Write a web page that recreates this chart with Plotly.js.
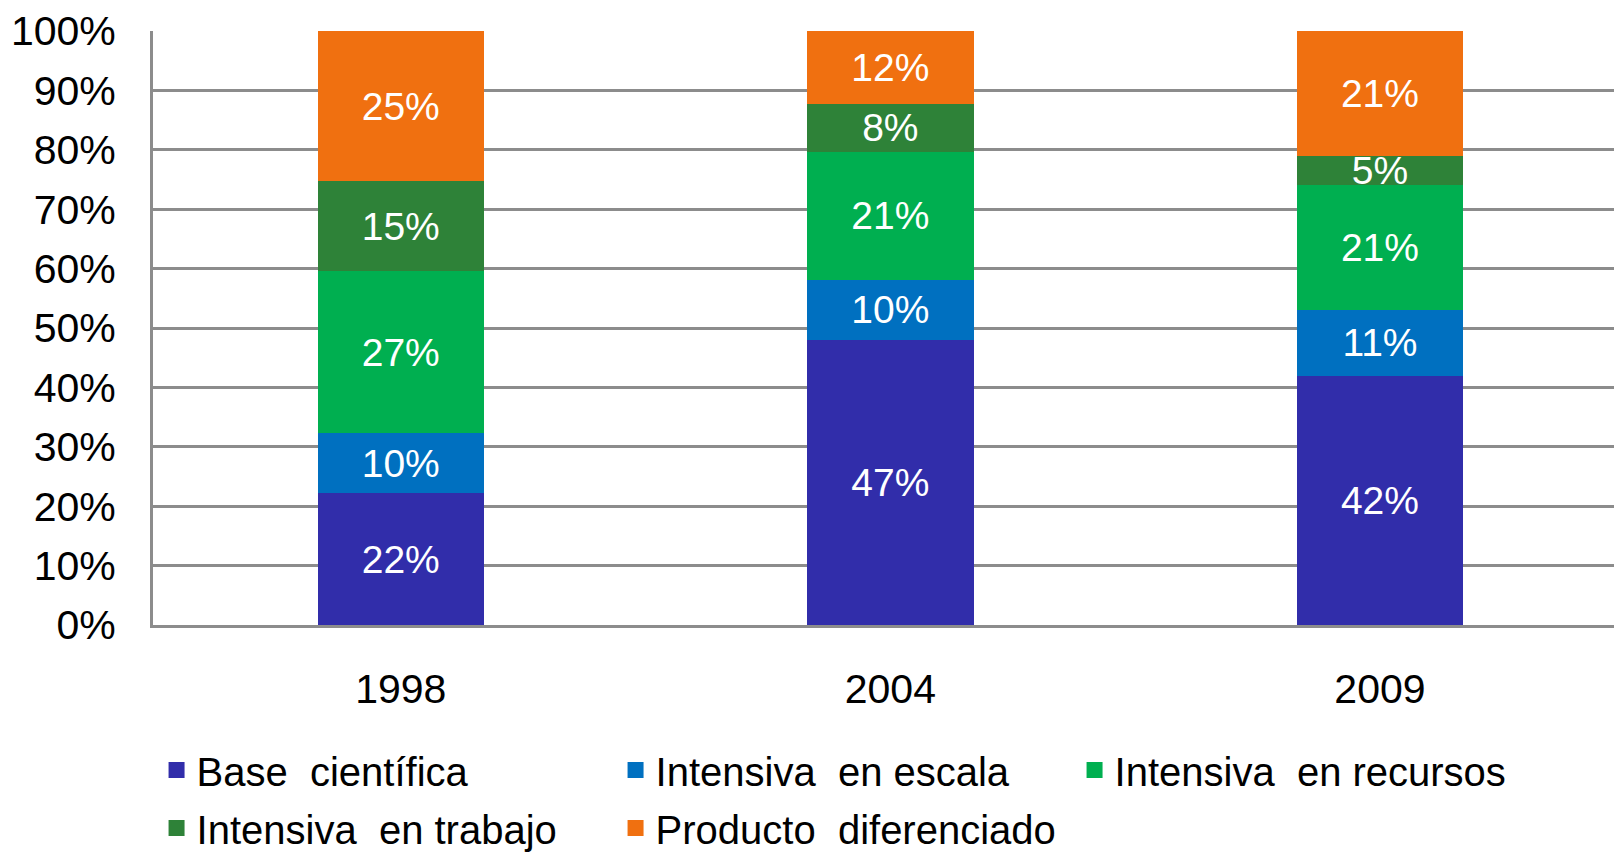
<!DOCTYPE html>
<html>
<head>
<meta charset="utf-8">
<script src="https://cdn.plot.ly/plotly-3.0.1.min.js"></script>
<style>
  html, body { margin: 0; padding: 0; background: white; }
  #chart { width: 1614px; height: 856px; }
</style>
</head>
<body>
<div id="chart"></div>
<script>
// Years on the x axis
const years = ['1998', '2004', '2009'];

// Share of each category per year (%), as printed on the bars
const baseCientifica = [22, 47, 42];
const intensivaEscala = [10, 10, 11];
const intensivaRecursos = [27, 21, 21];
const intensivaTrabajo = [15, 8, 5];
const productoDiferenciado = [25, 12, 21];

const seriesNames = ['Base  científica', 'Intensiva  en escala', 'Intensiva  en recursos',
    'Intensiva  en trabajo', 'Producto  diferenciado'];
const seriesValues = [baseCientifica, intensivaEscala, intensivaRecursos,
    intensivaTrabajo, productoDiferenciado];
const seriesColors = ['#312DAA', '#0070C0', '#00AF50', '#2E8238', '#F07010'];
// first three entries on the first legend row, the rest on the second
const legendRow = ['legend', 'legend', 'legend', 'legend2', 'legend2'];

const fontFamily = '"Liberation Sans", Arial, sans-serif';

const traces = seriesValues.map((vals, i) => ({
    type: 'bar',
    name: seriesNames[i],
    x: years,
    y: vals,
    width: 0.34,
    text: vals.map(v => v + '%'),
    textposition: 'inside',
    insidetextanchor: 'middle',
    constraintext: 'none',
    textfont: { family: fontFamily, size: 39, color: 'white' },
    hoverinfo: 'name+text',
    showlegend: false,
    marker: { color: seriesColors[i], line: { width: 0 } }
}));

// legend-only entries, so the swatches can be bigger than the bar ones
seriesNames.forEach((name, i) => {
    traces.push({
        type: 'scatter',
        mode: 'markers',
        name: name,
        x: [null],
        y: [null],
        legend: legendRow[i],
        hoverinfo: 'skip',
        marker: { symbol: 'square', size: 16, color: seriesColors[i] }
    });
});

const legendBase = {
    orientation: 'h',
    traceorder: 'normal',
    xref: 'container',
    yref: 'container',
    x: 0.097,
    xanchor: 'left',
    yanchor: 'middle',
    entrywidth: 414,
    entrywidthmode: 'pixels',
    itemwidth: 30,
    bgcolor: 'rgba(0,0,0,0)',
    font: { size: 40, family: fontFamily, color: '#000' }
};

const layout = {
    width: 1614,
    height: 856,
    barmode: 'stack',
    barnorm: 'percent',
    plot_bgcolor: 'white',
    paper_bgcolor: 'white',
    font: { family: fontFamily, color: '#000' },
    margin: { t: 31, r: 0, b: 231, l: 153 },
    xaxis: {
        type: 'category',
        range: [-0.506, 2.478],
        showgrid: false,
        showline: true,
        linecolor: '#8c8c8c',
        linewidth: 3,
        ticks: '',
        ticklabelstandoff: 26,
        tickfont: { size: 41, family: fontFamily, color: '#000' }
    },
    yaxis: {
        range: [0, 100],
        dtick: 10,
        ticksuffix: '%',
        showgrid: true,
        gridcolor: '#8c8c8c',
        gridwidth: 3,
        showline: true,
        linecolor: '#8c8c8c',
        linewidth: 3,
        zeroline: false,
        ticks: '',
        ticklabelstandoff: 26,
        tickfont: { size: 41, family: fontFamily, color: '#000' }
    },
    legend: Object.assign({}, legendBase, { y: 1 - 770 / 856 }),
    legend2: Object.assign({}, legendBase, { y: 1 - 828 / 856 })
};

Plotly.newPlot('chart', traces, layout, { displayModeBar: false, responsive: false });
</script>
</body>
</html>
